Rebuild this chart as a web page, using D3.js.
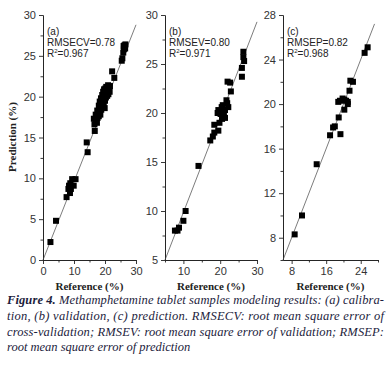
<!DOCTYPE html>
<html><head>
<meta charset="utf-8">
<script src="https://d3js.org/d3.v7.min.js"></script>
<style>
  body { margin: 0; background: #fff; }
  svg text { font-family: "Liberation Sans", Arial, sans-serif; }
</style>
</head>
<body>
<div id="container"></div>
<script>
// ---- data: [reference, prediction] ----
const calibration = [
  [2.4,2.2],[4.2,4.8],[7.6,7.7],[8.2,8.7],[8.4,9.1],[8.7,8.2],[8.8,9.4],[9.4,9.9],[9.9,9.1],[10.5,9.9],[9.0,8.7],
  [14.1,14.4],[14.4,13.2],[16.7,15.8],
  [16.4,17.3],[16.9,16.9],[17.1,17.2],[17.3,17.6],[17.0,17.8],[17.6,17.4],[17.8,18.0],[17.5,18.3],[18.0,17.6],
  [18.2,18.5],[18.0,18.9],[18.4,18.2],[18.6,19.0],[18.3,19.4],[18.8,18.4],[19.0,19.3],[18.7,19.8],[19.2,18.8],
  [19.4,19.6],[19.1,20.2],[19.6,19.0],[19.8,20.0],[19.4,20.6],[20.0,19.5],[20.1,20.4],[19.7,20.9],[20.3,19.9],
  [20.5,20.6],[20.1,21.0],[20.7,20.1],[20.9,20.8],[20.4,21.2],[21.1,20.3],[21.3,21.0],[21.0,21.4],[21.5,20.6],
  [21.6,21.3],[18.5,17.8],[19.9,18.6],[17.4,16.8],[16.6,16.6],
  [22.3,23.1],[23.0,22.3],[25.4,24.4],[25.6,24.7],[25.9,25.4],[26.1,25.8],[26.3,26.3],[26.6,26.4],[26.0,26.2],[26.5,25.9]
];
const validation = [
  [7.7,8.0],[8.4,8.0],[8.8,8.3],[10.0,9.0],[10.6,10.0],[14.1,14.6],[17.3,17.2],[18.0,17.6],[18.4,18.0],[18.4,18.8],
  [19.5,18.2],[19.8,19.0],[19.5,20.3],[19.3,20.0],[20.4,20.1],[20.1,19.9],[20.7,20.8],[20.4,20.6],[21.3,20.3],
  [21.7,21.3],[22.2,20.6],[20.9,19.6],[21.3,19.5],[21.9,21.0],[22.0,23.2],[22.7,23.1],[22.9,22.2],[25.9,23.7],
  [25.9,24.6],[26.5,25.3],[26.3,25.7],[26.3,26.25],[21.0,20.0],[20.5,19.4]
];
const prediction = [
  [8.7,8.3],[10.4,10.0],[13.8,14.6],[16.9,17.2],[17.6,17.9],[18.0,18.0],[18.9,18.8],[19.3,17.3],
  [18.8,20.2],[19.2,20.3],[19.8,20.5],[20.2,20.4],[20.6,20.3],[20.2,19.5],[21.0,20.0],[21.0,20.2],
  [21.4,21.2],[21.6,22.1],[22.2,22.0],[24.9,24.6],[25.6,25.1]
];
// fitted lines [x0,y0,x1,y1]
const fitLines = [[0,0,30,28.8],[5,5,30,29.3],[6,6,27.2,27.2]];
const panelTags = ["(a)", "(b)", "(c)"];
const statNames = ["RMSECV=0.78", "RMSEV=0.80", "RMSEP=0.82"];
const r2Values = ["0.967", "0.971", "0.968"];
const xDomains = [[0,30],[5,30],[6,28]];
const yDomains = [[0,30],[5,30],[6,28]];
const majorTicks = [[0,10,20,30],[10,20,30],[8,16,24]];
const majorTicksY = [[0,5,10,15,20,25,30],[5,10,15,20,25,30],[8,12,16,20,24,28]];
const minorTicksX = [[5,15,25],[5,15,25],[12,20,28]];
const minorTicksY = [
  [2.5,7.5,12.5,17.5,22.5,27.5],[7.5,12.5,17.5,22.5,27.5],[6,10,14,18,22,26]
];
const captionLines = [
  ["Figure 4.", " Methamphetamine tablet samples modeling results: (a) calibra-"],
  ["", "tion, (b) validation, (c) prediction. RMSECV: root mean square error of"],
  ["", "cross-validation; RMSEV: root mean square error of validation; RMSEP:"],
  ["", "root mean square error of prediction"]
];

const width = 388, height = 371;
const svg = d3.select("#container").append("svg")
  .attr("width", width).attr("height", height);

const panels = [
  { data: calibration, left: 43, right: 136 },
  { data: validation, left: 165, right: 257 },
  { data: prediction, left: 283, right: 378 }
];
const plotTop = 15, plotBottom = 260;
const axisColor = "#222";

panels.forEach((p, i) => {
  const x = d3.scaleLinear().domain(xDomains[i]).range([p.left, p.right]);
  const y = d3.scaleLinear().domain(yDomains[i]).range([plotBottom, plotTop]);
  const g = svg.append("g");

  // x axis
  g.append("g").attr("transform", `translate(0,${plotBottom})`)
    .call(d3.axisBottom(x).tickValues(majorTicks[i]).tickSize(4).tickPadding(3).tickSizeOuter(0));
  g.append("g").attr("transform", `translate(0,${plotBottom})`)
    .call(d3.axisBottom(x).tickValues(minorTicksX[i]).tickSize(2.5).tickFormat("").tickSizeOuter(0));
  // y axis
  g.append("g").attr("transform", `translate(${p.left},0)`)
    .call(d3.axisLeft(y).tickValues(majorTicksY[i]).tickSize(4).tickPadding(3).tickSizeOuter(0));
  g.append("g").attr("transform", `translate(${p.left},0)`)
    .call(d3.axisLeft(y).tickValues(minorTicksY[i]).tickSize(2.5).tickFormat("").tickSizeOuter(0));

  g.selectAll(".domain, .tick line").attr("stroke", axisColor).attr("stroke-width", 0.9);
  g.selectAll(".tick text").attr("font-size", 11).attr("fill", "#333")
    .style("font-family", "'Liberation Sans', Arial, sans-serif");

  // fit line
  const L = fitLines[i];
  g.append("line")
    .attr("x1", x(L[0])).attr("y1", y(L[1]))
    .attr("x2", x(L[2])).attr("y2", y(L[3]))
    .attr("stroke", "#444").attr("stroke-width", 0.7);

  // points
  const s = 6;
  g.selectAll("rect.pt").data(p.data).join("rect").attr("class", "pt")
    .attr("x", d => x(d[0]) - s / 2).attr("y", d => y(d[1]) - s / 2)
    .attr("width", s).attr("height", s).attr("fill", "#000");

  // annotations
  const tx = p.left + 4;
  g.append("text").attr("x", tx).attr("y", 35).attr("font-size", 10).attr("fill", "#222").text(panelTags[i]);
  g.append("text").attr("x", tx).attr("y", 46).attr("font-size", 10).attr("fill", "#222").text(statNames[i]);
  const r2 = g.append("text").attr("x", tx).attr("y", 57).attr("font-size", 10).attr("fill", "#222");
  r2.append("tspan").text("R");
  r2.append("tspan").attr("font-size", 6).attr("dy", -4).text("2");
  r2.append("tspan").attr("dy", 4).text("=" + r2Values[i]);

  // x label
  g.append("text").attr("x", (p.left + p.right) / 2).attr("y", 290)
    .attr("text-anchor", "middle").attr("font-size", 11).attr("font-weight", "bold")
    .style("font-family", "'Liberation Serif', 'Times New Roman', serif")
    .attr("fill", "#222").text("Reference (%)");
});

// y label
svg.append("text")
  .attr("transform", "translate(16,137) rotate(-90)")
  .attr("text-anchor", "middle").attr("font-size", 11).attr("font-weight", "bold")
  .style("font-family", "'Liberation Serif', 'Times New Roman', serif")
  .attr("fill", "#222").text("Prediction (%)");

// caption
const capY = [304, 320, 336, 351];
captionLines.forEach((ln, i) => {
  const t = svg.append("text").attr("x", 7).attr("y", capY[i])
    .attr("font-size", 12.5).attr("font-style", "italic").attr("fill", "#1c1c3c")
    .style("font-family", "'Liberation Serif', 'Times New Roman', serif");
  if (i < 3) t.attr("textLength", 377).attr("lengthAdjust", "spacing");
  if (ln[0]) t.append("tspan").attr("font-weight", "bold").text(ln[0]);
  t.append("tspan").text(ln[1]);
});
</script>
</body>
</html>
